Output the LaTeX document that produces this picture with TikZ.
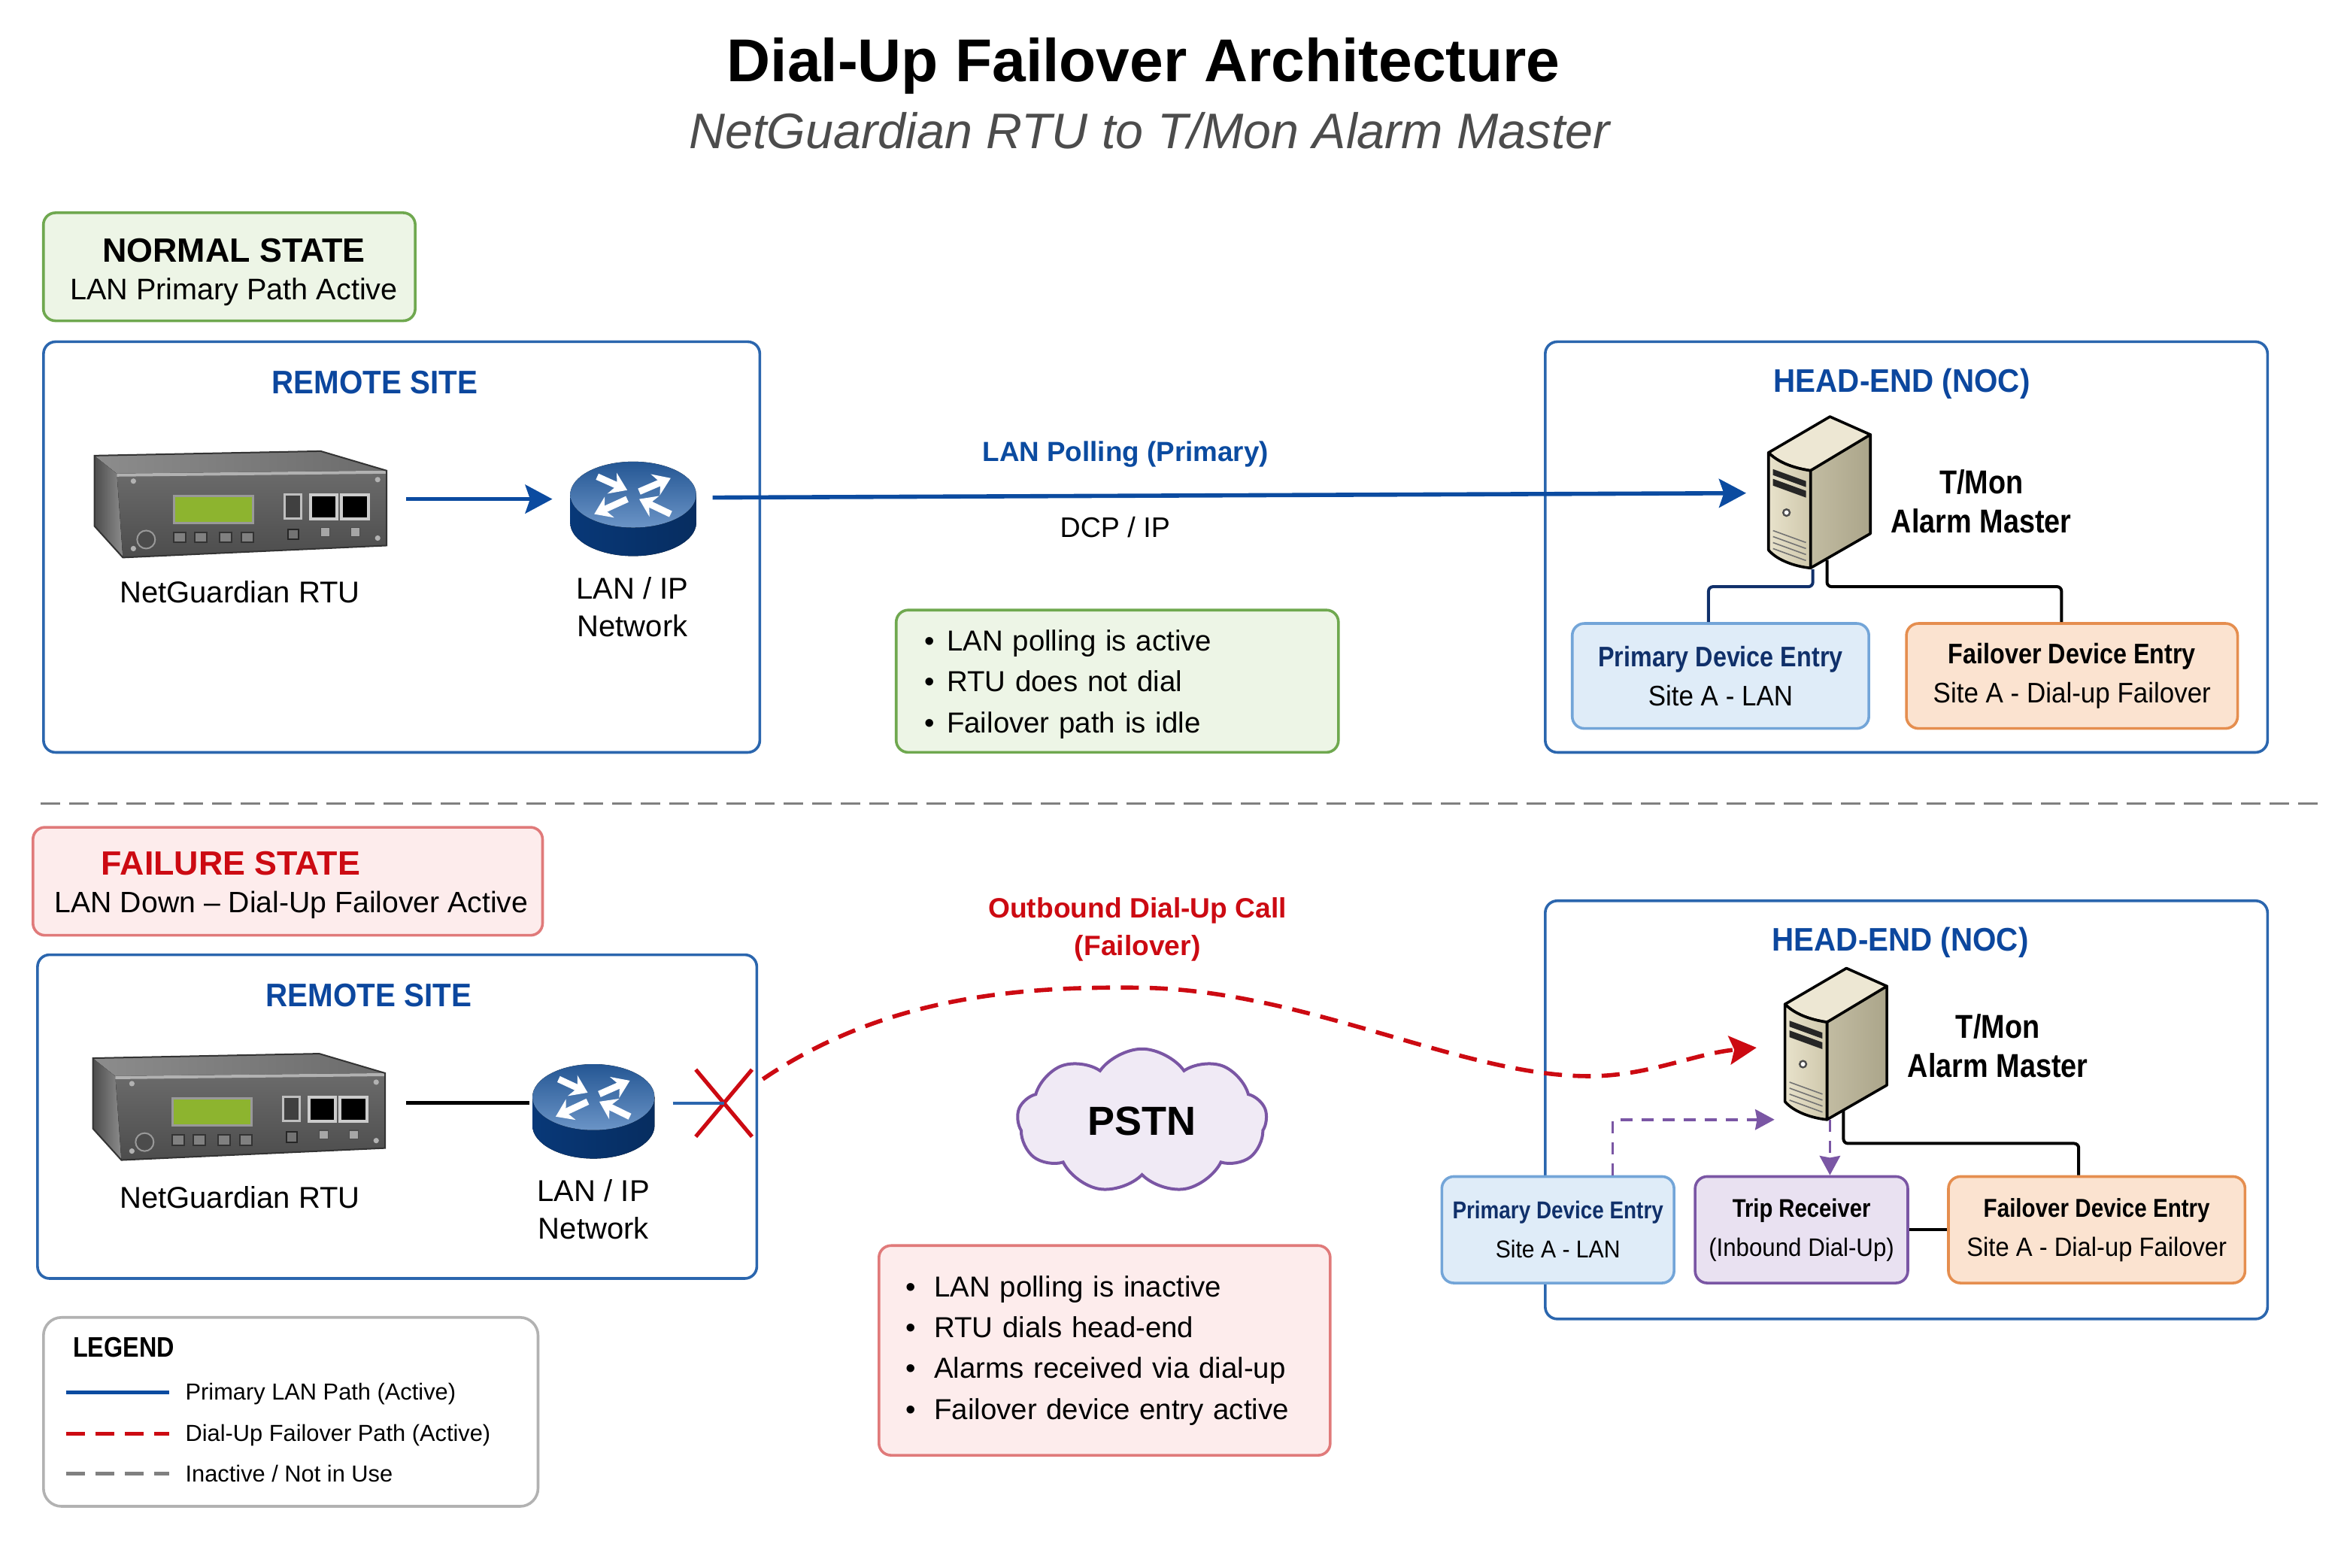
\documentclass[tikz,border=0pt]{standalone}
\usepackage{fontspec}
\setmainfont{Liberation Sans}
\newfontfamily\narrowfont[FakeStretch=0.86]{Liberation Sans}
\newfontfamily\midfont[FakeStretch=0.93]{Liberation Sans}
\usetikzlibrary{arrows.meta,shapes.symbols,shapes.misc}

\definecolor{panelblue}{HTML}{2B66AE}
\definecolor{headblue}{HTML}{0C479E}
\definecolor{lanblue}{HTML}{0B4BA0}
\definecolor{navyink}{HTML}{10306A}
\definecolor{failred}{HTML}{CC0A12}
\definecolor{okgreen}{HTML}{6FA84F}
\definecolor{okfill}{HTML}{EDF5E6}
\definecolor{badedge}{HTML}{E07A7A}
\definecolor{badfill}{HTML}{FDECEC}
\definecolor{entryblue}{HTML}{DFECF8}
\definecolor{entryedge}{HTML}{73A5D8}
\definecolor{entryorange}{HTML}{FBE3D0}
\definecolor{orangeedge}{HTML}{E58E4F}
\definecolor{tripfill}{HTML}{E9E1F1}
\definecolor{tripedge}{HTML}{7A56A4}
\definecolor{greyline}{HTML}{808080}
\definecolor{lcdgreen}{HTML}{8DB42F}
\definecolor{towertop}{HTML}{EDE7D3}
\definecolor{towerfront}{HTML}{E8E2CB}
\definecolor{towerfrontb}{HTML}{CFC8AC}
\definecolor{towerside}{HTML}{C2BCA2}
\definecolor{towersideb}{HTML}{ABA58A}

\tikzset{every picture/.style={line width=0.75pt},
  every pic/.style={yscale=-1},
  panelbox/.style={draw=panelblue,line width=0.9pt,rounded corners=4pt,fill=white},
  statebox/.style={line width=0.9pt,rounded corners=4pt},
  entrybox/.style={line width=0.9pt,rounded corners=4pt,align=center,inner sep=0pt},
  paneltitle/.style={font=\fontsize{10.85}{13}\selectfont\midfont\bfseries,text=headblue,inner sep=0pt},
  devlabel/.style={font=\fontsize{10}{12}\selectfont,align=center,inner sep=0pt},
  servlabel/.style={font=\fontsize{11}{13}\selectfont\narrowfont\bfseries,align=center,inner sep=0pt},
  notebox/.style={line width=0.9pt,rounded corners=4pt,align=left,inner ysep=0pt,inner xsep=9.5pt,font=\fontsize{9.6}{13.6}\selectfont},
  lanline/.style={draw=lanblue,line width=1.4pt,-{Stealth[length=9pt,width=9.5pt,inset=1.6pt]}},
  wireline/.style={rounded corners=1.5pt,line width=1pt},
  tripline/.style={draw=tripedge,line width=0.9pt,dash pattern=on 4pt off 3pt,-{Stealth[length=6.4pt,width=6.8pt,inset=0.6pt]}},
  hotspot/.style={inner sep=0pt,minimum width=#1},
  rtubox/.pic={
    %Shape: case faces
    \fill[left color=black!70,right color=black!45] (1,4) -- (16,16) -- (20,72) -- (1,51) -- cycle;
    \fill[left color=black!45,right color=black!58] (1,4) -- (152,1) -- (196,14) -- (16,16) -- cycle;
    \fill[top color=black!58,bottom color=black!70] (16,16) -- (196,14) -- (196,64) -- (20,72) -- cycle;
    \draw[black!30,line width=1pt] (16,17) -- (196,15);
    \draw[black!80,line width=0.5pt] (1,4) -- (152,1) -- (196,14) -- (196,64) -- (20,72) -- (1,51) -- cycle;
    %Screen and ports
    \filldraw[draw=black!40,fill=lcdgreen] (54,31) rectangle (107,49);
    \filldraw[fill=black!75,draw=black!25] (128,30) rectangle (139,46);
    \foreach \px in {145,166}{
      \filldraw[fill=black,draw=black!20,line width=1pt] (\px,30) rectangle +(18,16);
    }
    %Buttons and screws
    \foreach \bx in {54,68,84.5,99}{
      \filldraw[fill=black!50,draw=black!80,line width=0.5pt] (\bx,55) rectangle +(8,7);
    }
    \foreach \bx in {152,172}{
      \filldraw[fill=black!35,draw=black!70,line width=0.4pt] (\bx,52) rectangle +(6,6);
    }
    \filldraw[fill=black!55,draw=black!85,line width=0.5pt] (130,53) rectangle +(7,7);
    \filldraw[fill=black!70,draw=black!40,line width=0.5pt] (35.5,60) circle (3pt);
    \foreach \sx/\sy in {27/21,190/20,190/59,27/66}{
      \fill[black!30] (\sx,\sy) circle (0.9pt);
    }
    \node[hotspot=98pt,minimum height=36pt] (-box) at (98,36) {};
  },
  routerbox/.pic={
    %Shape: router disk
    \fill[left color=lanblue!75!black,right color=lanblue!60!black] (-42,0) -- (-42,19)
      .. controls (-42,31) and (-23,41) .. (0,41) .. controls (23,41) and (42,31) .. (42,19) -- (42,0) -- cycle;
    \fill[top color=panelblue!85!black,bottom color=panelblue!70!white] (0,0) ellipse[x radius=42,y radius=22];
    \foreach \ax/\ay/\bx/\by in {-24/-12/-4/-3,4/-2/25/-11,-4/3/-26/13,25/13/4/3}{
      \draw[white,line width=2.2pt,-{Stealth[length=5.5pt,width=7.5pt]}] (\ax,\ay) -- (\bx,\by);
    }
    \node[hotspot=42pt,minimum height=31pt] (-box) at (0,9.5) {};
  },
  serverbox/.pic={
    %Shape: tower faces
    \filldraw[fill=towertop,draw=black,line width=0.9pt,line join=round] (0,0) -- (41,-24) -- (68,-12)
      .. controls (50,2) .. (28,12) .. controls (15,10) and (6,6) .. (0,0) -- cycle;
    \filldraw[draw=black,line width=0.9pt,line join=round,left color=towerside,right color=towersideb] (68,-12) -- (68,54) -- (28,77) -- (28,12) -- cycle;
    \filldraw[draw=black,line width=0.9pt,line join=round,left color=towerfront,right color=towerfrontb] (0,0) .. controls (6,6) and (15,10) .. (28,12)
      -- (28,77) .. controls (18,76) and (6,72) .. (0,65) -- cycle;
    %Bays, button and vents
    \fill[black!85] (3,11) -- (25,19) -- (25,23) -- (3,15) -- cycle;
    \fill[black!85] (3,17.5) -- (25,25.5) -- (25,30) -- (3,22) -- cycle;
    \draw[black!70,fill=white,line width=0.6pt] (12,40) circle (1.1pt);
    \foreach \vy in {0,1,2,3}{
      \draw[black!55,line width=0.4pt] (3,52+4*\vy) -- (25,60+4*\vy);
    }
    \node[hotspot=34pt,minimum height=50pt] (-box) at (34,26) {};
  }
}

\begin{document}
\begin{tikzpicture}[x=0.4982pt,y=0.4982pt,yscale=-1,xscale=1]
\fill[white] (0,0) rectangle (1568,1045.7);
\useasboundingbox (0,0) rectangle (1568,1045.7);

% Title
\node[font=\fontsize{20.1}{24}\selectfont\bfseries,inner sep=0pt] (title) at (763,44) {Dial-Up Failover Architecture};
\node[font=\fontsize{16.6}{20}\selectfont\itshape,text=black!70,inner sep=0pt] (subtitle) at (767,87) {NetGuardian RTU to T/Mon Alarm Master};

%Shape: normal state panels
\node[statebox,draw=okgreen,fill=okfill,minimum width=123.6pt,minimum height=35.9pt] (normalstate) at (153,178) {};
\node[font=\fontsize{11.2}{13}\selectfont\bfseries,inner sep=0pt] (normalhead) at (156,167) {NORMAL STATE};
\node[font=\fontsize{9.9}{12}\selectfont,inner sep=0pt] (normalsub) at (156,195) {LAN Primary Path Active};
\node[panelbox,minimum width=238.1pt,minimum height=136.5pt] (remoteA) at (268,365) {};
\node[panelbox,minimum width=240.1pt,minimum height=136.5pt] (headA) at (1272,365) {};
\node[paneltitle] (remoteAtitle) at (250,255) {REMOTE SITE};
\node[paneltitle] (headAtitle) at (1269,256) {HEAD-END (NOC)};

%Devices normal state
\pic (rtuA) at (62,300) {rtubox};
\pic (routerA) at (422.5,330) {routerbox};
\pic (serverA) at (1180,302) {serverbox};
\node[devlabel] (rtuAlabel) at (160,395) {NetGuardian RTU};
\node[devlabel] (routerAlabel) at (422,405) {LAN / IP\\[0.6pt]Network};
\node[servlabel] (serverAlabel) at (1322,334.5) {T/Mon\\Alarm Master};

%Entries normal state
\node[entrybox,draw=entryedge,fill=entryblue,minimum width=98.6pt,minimum height=34.9pt,font=\fontsize{9.4}{13}\selectfont\midfont] (primaryA) at (1148,451) {\narrowfont\textbf{\textcolor{navyink}{Primary Device Entry}}\\Site A - LAN};
\node[entrybox,draw=orangeedge,fill=entryorange,minimum width=110.1pt,minimum height=34.9pt,font=\fontsize{9.4}{13}\selectfont\midfont] (failoverA) at (1382.5,451) {\narrowfont\textbf{Failover Device Entry}\\Site A - Dial-up Failover};

%Straight Lines
\draw[lanline,shorten <=6pt] ([yshift=-1.5pt]rtuA-box.east) -- ([xshift=-5.5pt,yshift=-1.5pt]routerA-box.west |- rtuA-box.east);
\draw[lanline] ([xshift=5pt,yshift=-3.75pt]routerA-box.east) -- ([xshift=-7pt,yshift=0.5pt]serverA-box.west);
\draw[wireline,draw=navyink] ([xshift=-2.2pt,yshift=0.5pt]serverA-box.south) -- ++(0,11.5) -| ([xshift=-4pt]primaryA.north);
\draw[wireline] ([xshift=2.5pt,yshift=-2.65pt]serverA-box.south) -- ++(0,17.8) -| ([xshift=-3.5pt]failoverA.north);

% Text Node
\node[font=\fontsize{9.2}{12}\selectfont\bfseries,text=lanblue,inner sep=0pt] (lanpoll) at (751,303) {LAN Polling (Primary)};
\node[font=\fontsize{9.4}{12}\selectfont,inner sep=0pt] (dcpip) at (744,352) {DCP / IP};
\node[notebox,draw=okgreen,fill=okfill,text width=128pt,minimum height=47.3pt] (okenote) at (745.5,454.5) {\rule{0pt}{9pt}•\hspace{4pt}LAN polling is active\\•\hspace{4pt}RTU does not dial\\•\hspace{4pt}Failover path is idle};

%Straight Lines
\draw[greyline,line width=0.8pt,dash pattern=on 6.5pt off 3pt] (27,536) -- (1549,536);

%Shape: failure state panels
\node[statebox,draw=badedge,fill=badfill,minimum width=169.4pt,minimum height=35.9pt] (failstate) at (192,588) {};
\node[font=\fontsize{11.2}{13}\selectfont\bfseries,text=failred,inner sep=0pt] (failhead) at (154,576) {FAILURE STATE};
\node[font=\fontsize{9.8}{12}\selectfont,inner sep=0pt] (failsub) at (194.5,604) {LAN Down -- Dial-Up Failover Active};
\node[panelbox,minimum width=239.1pt,minimum height=107.6pt] (remoteB) at (265,745) {};
\node[panelbox,minimum width=240.1pt,minimum height=139pt] (headB) at (1272,740.5) {};
\node[paneltitle] (remoteBtitle) at (246,664) {REMOTE SITE};
\node[paneltitle] (headBtitle) at (1268,629) {HEAD-END (NOC)};

%Entries failure state
\node[entrybox,draw=entryedge,fill=entryblue,minimum width=77.2pt,minimum height=35.4pt,font=\fontsize{8.8}{13}\selectfont\midfont] (primaryB) at (1039.5,820.5) {\fontsize{8.1}{13}\selectfont\narrowfont\textbf{\textcolor{navyink}{Primary Device Entry}}\\\fontsize{8.1}{13}\selectfont Site A - LAN};
\node[entrybox,draw=tripedge,fill=tripfill,minimum width=70.7pt,minimum height=35.4pt,font=\fontsize{8.8}{13}\selectfont\midfont] (tripB) at (1202,820.5) {\fontsize{8.5}{13}\selectfont\narrowfont\textbf{Trip Receiver}\\\fontsize{8.4}{13}\selectfont(Inbound Dial-Up)};
\node[entrybox,draw=orangeedge,fill=entryorange,minimum width=98.6pt,minimum height=35.4pt,font=\fontsize{8.8}{13}\selectfont\midfont] (failoverB) at (1399,820.5) {\fontsize{8.6}{13}\selectfont\narrowfont\textbf{Failover Device Entry}\\\fontsize{8.8}{13}\selectfont Site A - Dial-up Failover};

%Devices failure state
\pic (rtuB) at (61,702) {rtubox};
\pic[xscale=0.97] (routerB) at (396,732) {routerbox};
\pic (serverB) at (1191,670) {serverbox};
\node[devlabel] (rtuBlabel) at (160,799) {NetGuardian RTU};
\node[devlabel] (routerBlabel) at (396,807) {LAN / IP\\[0.6pt]Network};
\node[servlabel] (serverBlabel) at (1333,698) {T/Mon\\Alarm Master};

%Cloud
\node[cloud,cloud puffs=9,cloud puff arc=110,aspect=1.7,draw=tripedge,fill=tripfill!70!white,line width=1pt,inner sep=0pt,minimum width=83pt,minimum height=48pt,font=\fontsize{13.5}{16}\selectfont\bfseries] (pstn) at (762,748) {PSTN};

%Straight Lines
\draw[line width=1.3pt] ([xshift=6.5pt,yshift=-1pt]rtuB-box.east) -- ([yshift=-1pt]routerB-box.west |- rtuB-box.east);
\node[cross out,draw=failred,line width=1.3pt,inner sep=0pt,minimum width=17.4pt,minimum height=21pt] (cutB) at (483,736) {};
\draw[panelblue,line width=1pt] ([xshift=5pt]routerB-box.east |- cutB) -- (cutB.center);
\coordinate (dialstart) at (509,720);
\coordinate (dialend) at (1172,699);
\draw[failred,line width=1.4pt,dash pattern=on 6pt off 3.6pt,-{Stealth[length=9pt,width=9.5pt,inset=1.6pt]}] (dialstart) .. controls (590,665) and (680,658) .. (760,659) .. controls (870,660) and (975,718) .. (1060,718) .. controls (1100,718) and (1130,703) .. (dialend);
\coordinate (tripstub) at (1184,747);
\draw[tripline] ([xshift=18.2pt]primaryB.north) |- (tripstub);
\draw[tripline] ([xshift=-2pt]serverB-box.south) -- ([xshift=-2pt]serverB-box.south |- tripB.north);
\draw[wireline] ([xshift=2.5pt,yshift=-3pt]serverB-box.south) -- ++(0,22) -| ([xshift=-6pt]failoverB.north);
\draw[line width=1pt] (tripB.east) -- (failoverB.west);

% Text Node
\node[font=\fontsize{9.3}{12.6}\selectfont\bfseries,text=failred,align=center,inner sep=0pt] (dialcall) at (759,620) {Outbound Dial-Up Call\\(Failover)};
\node[notebox,draw=badedge,fill=badfill,text width=132pt,minimum height=69.7pt,inner xsep=9pt] (badnote) at (737,901) {•\hspace{6pt}LAN polling is inactive\\•\hspace{6pt}RTU dials head-end\\•\hspace{6pt}Alarms received via dial-up\\•\hspace{6pt}Failover device entry active};

%Legend
\node[draw=black!30,line width=0.9pt,rounded corners=6pt,minimum width=164.4pt,minimum height=62.8pt] (legendbox) at (194,942) {};
\node[font=\fontsize{9.4}{11}\selectfont\narrowfont\bfseries,anchor=west,inner sep=0pt] (legendhead) at (48,899) {LEGEND};
\coordinate (legendA) at (44,929);
\coordinate (legendB) at (44,956.5);
\coordinate (legendC) at (44,983);
\draw[lanblue,line width=1.3pt] (legendA) -- ++(69,0);
\draw[failred,line width=1.3pt,dash pattern=on 6.3pt off 3.5pt] (legendB) -- ++(69,0);
\draw[greyline,line width=1.3pt,dash pattern=on 6.3pt off 3.5pt] (legendC) -- ++(69,0);
\node[font=\fontsize{7.7}{10}\selectfont,anchor=west,inner sep=0pt] (legendAtext) at (123,930) {Primary LAN Path (Active)};
\node[font=\fontsize{7.7}{10}\selectfont,anchor=west,inner sep=0pt] (legendBtext) at (123,957.5) {Dial-Up Failover Path (Active)};
\node[font=\fontsize{7.7}{10}\selectfont,anchor=west,inner sep=0pt] (legendCtext) at (123,983) {Inactive / Not in Use};

\end{tikzpicture}
\end{document}
